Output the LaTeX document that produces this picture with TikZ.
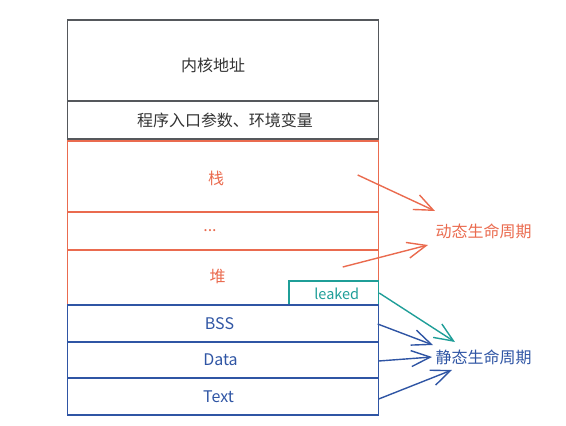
\documentclass[tikz,border=0pt]{standalone}
\usepackage{fontspec}
\setmainfont{Noto Sans CJK SC}
\usetikzlibrary{arrows.meta}
\definecolor{cgray}{HTML}{55585C}
\definecolor{ctext}{HTML}{333333}
\definecolor{cred}{HTML}{EA6B4F}
\definecolor{cblue}{HTML}{2F55A4}
\definecolor{cteal}{HTML}{1F9E98}
\begin{document}
\begin{tikzpicture}[x=1pt,y=-1pt,
  box/.style={draw, rectangle, line width=1.4pt, minimum width=311pt, inner sep=0pt, anchor=center},
  gbox/.style={box, draw=cgray},
  rbox/.style={box, draw=cred},
  bbox/.style={box, draw=cblue},
  lbl/.style={inner sep=0pt, font=\fontsize{16}{19}\selectfont},
  arr/.style={line width=1.4pt, -{Straight Barb[length=19pt,width=16pt]}}]
\useasboundingbox (0,0) rectangle (566,426);
% boxes
\node[gbox, minimum height=81pt] (kern) at (223,60.5) {};
\node[gbox, minimum height=38pt] (args) at (223,120) {};
\node[rbox, minimum height=71pt] (stack) at (223,176.5) {};
\node[rbox, minimum height=37pt] (dots) at (223,231) {};
\node[rbox, minimum height=55pt] (heap) at (223,277.5) {};
\node[draw=cteal, line width=1.4pt, rectangle, minimum width=89.5pt, minimum height=24pt, inner sep=0pt] (leak) at (333.75,293) {};
\node[bbox, minimum height=37pt] (bss) at (223,323.5) {};
\node[bbox, minimum height=36pt] (data) at (223,360) {};
\node[bbox, minimum height=37pt] (text) at (223,396.5) {};
% texts
\node[lbl, text=ctext] (tkern) at ([shift={(-10,4.5)}]kern.center) {内核地址};
\node[lbl, text=ctext] (targs) at ([shift={(2,0)}]args.center) {程序入口参数、环境变量};
\node[lbl, text=cred] (tstack) at ([shift={(-7,1.5)}]stack.center) {栈};
\node[lbl, text=cred] (tdots) at ([shift={(-13,0)}]dots.center) {...};
\node[lbl, text=cred] (theap) at ([shift={(-5.5,-1)}]heap.center) {堆};
\node[lbl, text=cteal, font=\fontsize{14.5}{17}\selectfont] (tleak) at ([shift={(3,1)}]leak.center) {leaked};
\node[lbl, text=cblue] (tbss) at ([shift={(-3.5,0)}]bss.center) {BSS};
\node[lbl, text=cblue] (tdata) at ([shift={(-2.5,0)}]data.center) {Data};
\node[lbl, text=cblue] (ttext) at ([shift={(-4.5,0)}]text.center) {Text};
% right labels
\node[lbl, text=cred] (dyn) at (483.5,231) {动态生命周期};
\node[lbl, text=cblue] (stat) at (483.5,357) {静态生命周期};
% arrow ends
\coordinate (e1) at (435,211);
\coordinate (e2) at (428,245);
\coordinate (e3) at (455,342);
\coordinate (e4) at (433,345);
\coordinate (e5) at (432,357);
\coordinate (e6) at (452,370);
% arrows
\draw[arr, cred] ([shift={(-21.5,-1.5)}]stack.east) -- (e1);
\draw[arr, cred] ([shift={(-36.5,-10.5)}]heap.east) -- (e2);
\draw[arr, cteal] (leak.east) -- (e3);
\draw[arr, cblue] ([shift={(-1.5,0.5)}]bss.east) -- (e4);
\draw[arr, cblue] ([shift={(-0.5,1)}]data.east) -- (e5);
\draw[arr, cblue] ([shift={(-0.5,2.5)}]text.east) -- (e6);
\end{tikzpicture}
\end{document}
